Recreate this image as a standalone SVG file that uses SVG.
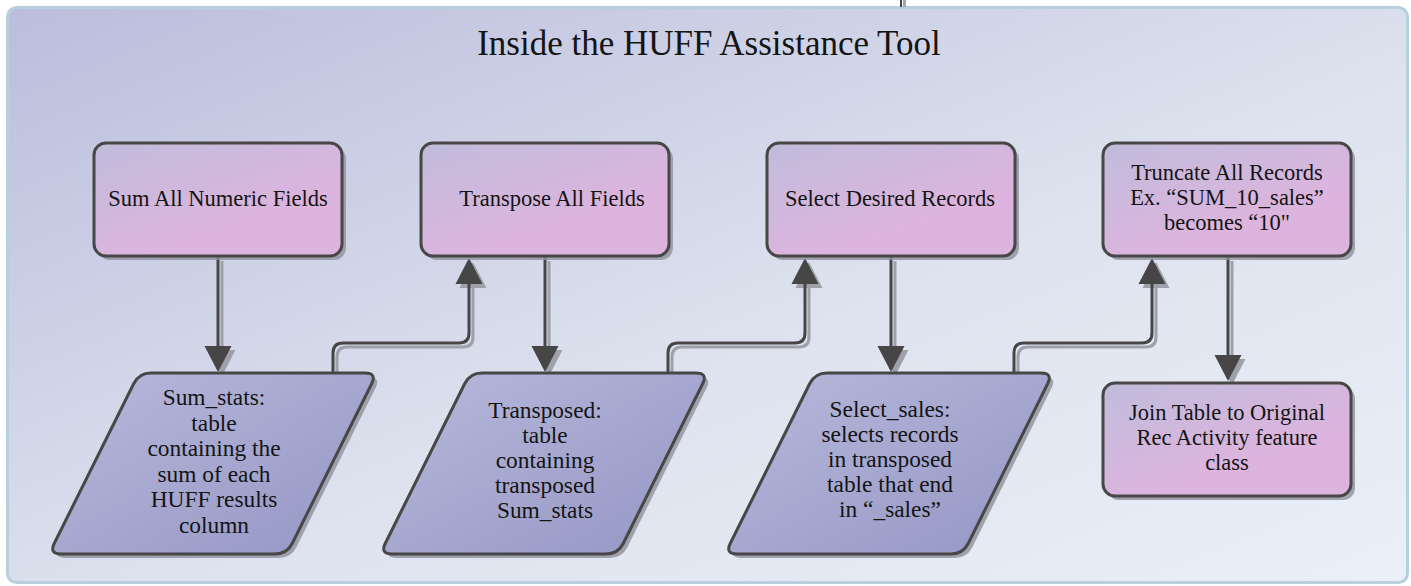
<svg xmlns="http://www.w3.org/2000/svg" xmlns:xlink="http://www.w3.org/1999/xlink" width="1411" height="586" viewBox="0 0 1411 586">
  <style>
    text { font-family: "Liberation Serif", "Times New Roman", serif; fill: #141414; text-anchor: middle; }
    .title { font-size: 35px; }
    .label { font-size: 22.5px; }
    .note { font-size: 23.4px; }
    .box { fill: url(#boxFill); stroke: #474747; stroke-width: 3; }
    .data { fill: url(#dataFill); stroke: #474747; stroke-width: 3; }
    .shade { fill: #8e919c; opacity: 0.8; stroke: none; }
    .wire { fill: none; stroke: #464646; stroke-width: 3; }
    .wire-shade { fill: none; stroke: #9ea0aa; stroke-width: 3; }
  </style>
  <defs>
    <linearGradient id="frameFill" x1="0" y1="0" x2="1" y2="1">
      <stop offset="0" stop-color="#bbbddc"/>
      <stop offset="0.55" stop-color="#dde2ee"/>
      <stop offset="1" stop-color="#eaf0f7"/>
    </linearGradient>
    <linearGradient id="boxFill" x1="0" y1="0" x2="0.55" y2="0.75">
      <stop offset="0" stop-color="#c0bcdb"/>
      <stop offset="1" stop-color="#ddb4de"/>
    </linearGradient>
    <linearGradient id="dataFill" x1="0" y1="0" x2="1" y2="1">
      <stop offset="0" stop-color="#b8b8db"/>
      <stop offset="1" stop-color="#9497c5"/>
    </linearGradient>
    <!-- rounded parallelogram used for the data tables -->
    <path id="para" d="M12,0 L226,0 Q238,0 232.66,10.75 L153.34,170.25 Q148,181 136,181 L-78,181 Q-90,181 -84.66,170.25 L-5.34,10.75 Q0,0 12,0 Z"/>
    <rect id="proc" x="0" y="0" width="248" height="113" rx="12" ry="12"/>
    <marker id="head" markerUnits="userSpaceOnUse" markerWidth="30" markerHeight="30" viewBox="0 -15 30 30" refX="0" refY="0" orient="auto" overflow="visible">
      <path d="M0,-13.5 L26,0 L0,13.5 Z" fill="#464646"/>
    </marker>
    <marker id="headShade" markerUnits="userSpaceOnUse" markerWidth="30" markerHeight="30" viewBox="0 -15 30 30" refX="0" refY="0" orient="auto" overflow="visible">
      <path d="M0,-13.5 L26,0 L0,13.5 Z" fill="#9ea0aa"/>
    </marker>
    <!-- connector routes -->
    <path id="w1" d="M218,257 V346"/>
    <path id="w2" d="M333,372 V353 Q333,343 343,343 H459 Q469,343 469,333 V284"/>
    <path id="w3" d="M545,257 V346"/>
    <path id="w4" d="M668,372 V353 Q668,343 678,343 H795 Q805,343 805,333 V284"/>
    <path id="w5" d="M891,257 V346"/>
    <path id="w6" d="M1014,372 V353 Q1014,343 1024,343 H1142 Q1152,343 1152,333 V284"/>
    <path id="w7" d="M1228,257 V355"/>
  </defs>

  <!-- outer frame -->
  <rect x="7.5" y="7.5" width="1400" height="575" rx="9" ry="9" fill="url(#frameFill)" stroke="#b8d0dd" stroke-width="3"/>
  <text class="title" x="709" y="55">Inside the HUFF Assistance Tool</text>

  <!-- connectors -->
  <g id="connectors">
    <line x1="904.5" y1="0" x2="904.5" y2="7" stroke="#a4a6b0" stroke-width="3"/>
    <line x1="901" y1="0" x2="901" y2="7" stroke="#464646" stroke-width="2"/>
    <g transform="translate(4,4)">
      <use xlink:href="#w1" class="wire-shade" marker-end="url(#headShade)"/>
      <use xlink:href="#w2" class="wire-shade" marker-end="url(#headShade)"/>
      <use xlink:href="#w3" class="wire-shade" marker-end="url(#headShade)"/>
      <use xlink:href="#w4" class="wire-shade" marker-end="url(#headShade)"/>
      <use xlink:href="#w5" class="wire-shade" marker-end="url(#headShade)"/>
      <use xlink:href="#w6" class="wire-shade" marker-end="url(#headShade)"/>
      <use xlink:href="#w7" class="wire-shade" marker-end="url(#headShade)"/>
    </g>
    <use xlink:href="#w1" class="wire" marker-end="url(#head)"/>
    <use xlink:href="#w2" class="wire" marker-end="url(#head)"/>
    <use xlink:href="#w3" class="wire" marker-end="url(#head)"/>
    <use xlink:href="#w4" class="wire" marker-end="url(#head)"/>
    <use xlink:href="#w5" class="wire" marker-end="url(#head)"/>
    <use xlink:href="#w6" class="wire" marker-end="url(#head)"/>
    <use xlink:href="#w7" class="wire" marker-end="url(#head)"/>
  </g>

  <!-- process steps -->
  <g id="sum-fields">
    <use xlink:href="#proc" class="shade" transform="translate(98,147)"/>
    <use xlink:href="#proc" class="box" transform="translate(94,143)"/>
    <text class="label" x="218" y="206">Sum All Numeric Fields</text>
  </g>
  <g id="transpose-fields">
    <use xlink:href="#proc" class="shade" transform="translate(425,147)"/>
    <use xlink:href="#proc" class="box" transform="translate(421,143)"/>
    <text class="label" x="552" y="206">Transpose All Fields</text>
  </g>
  <g id="select-records">
    <use xlink:href="#proc" class="shade" transform="translate(771,147)"/>
    <use xlink:href="#proc" class="box" transform="translate(767,143)"/>
    <text class="label" x="890" y="206">Select Desired Records</text>
  </g>
  <g id="truncate-records">
    <use xlink:href="#proc" class="shade" transform="translate(1107,147)"/>
    <use xlink:href="#proc" class="box" transform="translate(1103,143)"/>
    <text class="label" x="1227" y="180">Truncate All Records</text>
    <text class="label" x="1227" y="205">Ex. “SUM_10_sales”</text>
    <text class="label" x="1227" y="230">becomes “10"</text>
  </g>
  <g id="join-table">
    <use xlink:href="#proc" class="shade" transform="translate(1107,387)"/>
    <use xlink:href="#proc" class="box" transform="translate(1103,383)"/>
    <text class="label" x="1227" y="420">Join Table to Original</text>
    <text class="label" x="1227" y="445">Rec Activity feature</text>
    <text class="label" x="1227" y="470">class</text>
  </g>

  <!-- data tables -->
  <g id="sum-stats">
    <use xlink:href="#para" class="shade" transform="translate(143,377)"/>
    <use xlink:href="#para" class="data" transform="translate(139,373)"/>
    <text class="note" x="214" y="405">Sum_stats:</text>
    <text class="note" x="214" y="431">table</text>
    <text class="note" x="214" y="456">containing the</text>
    <text class="note" x="214" y="482">sum of each</text>
    <text class="note" x="214" y="507">HUFF results</text>
    <text class="note" x="214" y="533">column</text>
  </g>
  <g id="transposed">
    <use xlink:href="#para" class="shade" transform="translate(474,377)"/>
    <use xlink:href="#para" class="data" transform="translate(470,373)"/>
    <text class="note" x="545" y="418">Transposed:</text>
    <text class="note" x="545" y="443">table</text>
    <text class="note" x="545" y="468">containing</text>
    <text class="note" x="545" y="493">transposed</text>
    <text class="note" x="545" y="518">Sum_stats</text>
  </g>
  <g id="select-sales">
    <use xlink:href="#para" class="shade" transform="translate(819,377)"/>
    <use xlink:href="#para" class="data" transform="translate(815,373)"/>
    <text class="note" x="890" y="417">Select_sales:</text>
    <text class="note" x="890" y="442">selects records</text>
    <text class="note" x="890" y="467">in transposed</text>
    <text class="note" x="890" y="492">table that end</text>
    <text class="note" x="890" y="517">in “_sales”</text>
  </g>
</svg>
